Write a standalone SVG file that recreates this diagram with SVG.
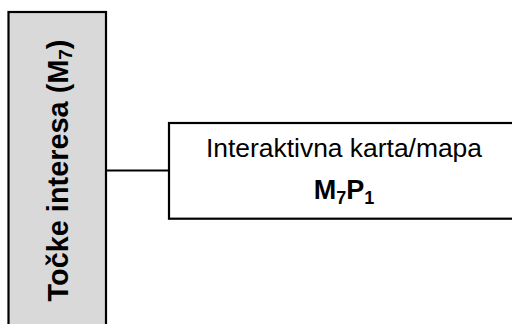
<svg xmlns="http://www.w3.org/2000/svg" width="512" height="324" viewBox="0 0 512 324">
<style>
.box{stroke:#000;stroke-width:2.2}
.t{font-family:"Liberation Sans",Arial,sans-serif;fill:#000}
.b{font-weight:bold}
</style>
<rect width="512" height="324" fill="#fff"/>
<g id="connectors">
<line x1="106" y1="170.5" x2="169" y2="170.5" stroke="#000" stroke-width="2.2"/>
</g>
<g id="node-m7">
<rect class="box" x="8.5" y="12" width="97.5" height="330" fill="#d9d9d9"/>
<text class="t b" font-size="29" text-anchor="middle" textLength="262" lengthAdjust="spacingAndGlyphs" transform="translate(68,170.5) rotate(-90)">Točke interesa (M<tspan font-size="19" dy="4">7</tspan><tspan dy="-4">)</tspan></text>
</g>
<g id="node-m7p1">
<rect class="box" x="169" y="123" width="360" height="95.7" fill="#fff"/>
<text class="t" x="344" y="156.7" font-size="26.5" text-anchor="middle" textLength="276" lengthAdjust="spacingAndGlyphs">Interaktivna karta/mapa</text>
<text class="t b" x="344" y="199.3" font-size="27" text-anchor="middle">M<tspan font-size="18" dy="5">7</tspan><tspan dy="-5">P</tspan><tspan font-size="18" dy="5">1</tspan></text>
</g>
</svg>
